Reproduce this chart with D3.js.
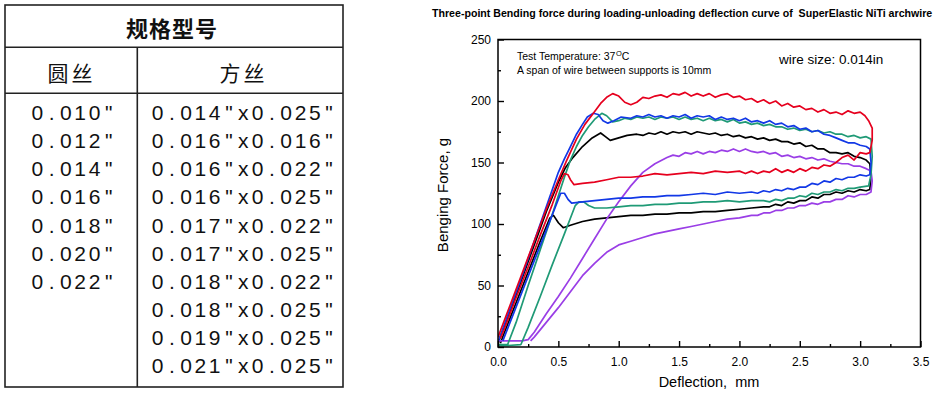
<!DOCTYPE html>
<html><head><meta charset="utf-8">
<script src="https://cdn.jsdelivr.net/npm/d3@7"></script>
<style>body{margin:0;background:#fff}svg{display:block}</style>
</head><body>
<svg id="c" width="945" height="395"></svg>
<script>
// ---------- DATA ----------
const tableTitle = "规格型号";
const colHeaders = ["圆丝", "方丝"];
const roundSizes = ['0.010"', '0.012"', '0.014"', '0.016"', '0.018"', '0.020"', '0.022"'];
const rectSizes = ['0.014"x0.025"', '0.016"x0.016"', '0.016"x0.022"', '0.016"x0.025"', '0.017"x0.022"',
  '0.017"x0.025"', '0.018"x0.022"', '0.018"x0.025"', '0.019"x0.025"', '0.021"x0.025"'];

const chartTitle = "Three-point Bending force during loading-unloading deflection curve of  SuperElastic NiTi archwire";
const xLabel = "Deflection,  mm";
const yLabel = "Benging Force, g";
const noteTemp = ["Test Temperature: 37", "O", "C"];
const noteSpan = "A span of wire between supports is 10mm";
const noteWire = "wire size: 0.014in";
const xTicks = [0, 0.5, 1.0, 1.5, 2.0, 2.5, 3.0, 3.5];
const yTicks = [0, 50, 100, 150, 200, 250];

const redLoop = [[0,8],[0.1,34],[0.2,60],[0.3,86],[0.4,112],[0.5,136],[0.57,152],[0.65,169],[0.72,181],[0.79,190],[0.85,198],[0.9,203],[0.95,206],[1.0,204],[1.05,199],[1.1,197],[1.15,199],[1.2,203],[1.25,202],[1.3,204],[1.35,205],[1.4,203],[1.45,206],[1.5,205],[1.55,207],[1.6,204],[1.65,206],[1.7,204],[1.75,206],[1.8,203],[1.85,205],[1.9,206],[1.95,203],[2.0,204],[2.05,201],[2.1,202],[2.15,199],[2.2,201],[2.25,198],[2.3,200],[2.35,196],[2.4,198],[2.45,195],[2.5,196],[2.55,193],[2.6,194],[2.65,191],[2.7,193],[2.75,190],[2.8,191],[2.85,189],[2.9,192],[2.95,190],[3.0,191],[3.04,188],[3.07,184],[3.1,178],[3.1,168],[3.08,158],[3.05,157],[3.0,158],[2.95,152],[2.9,156],[2.85,154],[2.8,150],[2.75,147],[2.7,148],[2.65,145],[2.6,146],[2.55,143],[2.5,145],[2.45,142],[2.4,144],[2.35,142],[2.3,145],[2.25,142],[2.2,143],[2.15,141],[2.1,143],[2.05,141],[2.0,143],[1.9,142],[1.8,143],[1.7,141],[1.6,142],[1.5,141],[1.4,140],[1.3,141],[1.2,139],[1.1,138],[1.0,138],[0.9,136],[0.8,134],[0.7,133],[0.63,132],[0.6,136],[0.58,140],[0.55,141],[0.52,135],[0.45,116],[0.35,91],[0.25,65],[0.15,40],[0.05,14],[0.02,7]];

const blueLoop = [[0,4],[0.1,31],[0.2,58],[0.3,86],[0.4,114],[0.5,142],[0.55,153],[0.6,163],[0.65,173],[0.7,181],[0.74,187],[0.79,190],[0.83,189],[0.87,184],[0.91,182],[0.96,184],[1.02,187],[1.1,186],[1.15,188],[1.2,187],[1.25,189],[1.3,187],[1.35,188],[1.4,186],[1.45,188],[1.5,187],[1.55,189],[1.6,186],[1.65,188],[1.7,187],[1.75,188],[1.8,185],[1.85,187],[1.9,185],[1.95,186],[2.0,184],[2.05,186],[2.1,183],[2.15,184],[2.2,182],[2.25,184],[2.3,181],[2.35,182],[2.4,179],[2.45,180],[2.5,177],[2.55,178],[2.6,175],[2.65,176],[2.7,173],[2.75,172],[2.8,170],[2.85,168],[2.9,166],[2.95,166],[3.0,164],[3.05,163],[3.08,161],[3.09,150],[3.08,140],[3.05,139],[3.0,140],[2.95,138],[2.9,138],[2.85,136],[2.8,137],[2.75,134],[2.7,135],[2.65,132],[2.6,133],[2.55,130],[2.5,130],[2.45,128],[2.4,129],[2.35,127],[2.3,128],[2.25,126],[2.2,127],[2.15,125],[2.1,126],[2.0,125],[1.9,126],[1.8,124],[1.7,125],[1.6,124],[1.5,123],[1.4,123],[1.3,122],[1.2,122],[1.1,121],[1.0,121],[0.9,120],[0.8,119],[0.7,118],[0.61,117],[0.58,120],[0.55,125],[0.52,125],[0.48,115],[0.4,95],[0.3,70],[0.2,45],[0.1,20],[0.04,5]];

const greenLoop = [[0,2],[0.08,2],[0.15,20],[0.25,50],[0.35,79],[0.45,108],[0.55,138],[0.6,152],[0.65,163],[0.7,172],[0.75,179],[0.8,185],[0.86,190],[0.9,188],[0.95,183],[1.0,184],[1.05,186],[1.1,185],[1.15,187],[1.2,186],[1.25,187],[1.3,185],[1.35,187],[1.4,186],[1.45,187],[1.5,185],[1.55,187],[1.6,185],[1.65,186],[1.7,184],[1.75,186],[1.8,184],[1.85,185],[1.9,183],[1.95,185],[2.0,182],[2.05,183],[2.1,181],[2.15,182],[2.2,180],[2.25,181],[2.3,179],[2.35,179],[2.4,177],[2.45,178],[2.5,176],[2.55,177],[2.6,175],[2.65,176],[2.7,174],[2.75,175],[2.8,173],[2.85,173],[2.9,171],[2.95,172],[3.0,170],[3.05,171],[3.09,169],[3.1,155],[3.09,140],[3.07,131],[3.0,130],[2.95,129],[2.9,129],[2.85,127],[2.8,128],[2.75,126],[2.7,126],[2.65,124],[2.6,125],[2.55,122],[2.5,123],[2.45,121],[2.4,121],[2.35,119],[2.3,120],[2.25,118],[2.2,119],[2.1,119],[2.0,118],[1.9,119],[1.8,118],[1.7,118],[1.6,117],[1.5,117],[1.4,116],[1.3,116],[1.2,115],[1.1,115],[1.0,114],[0.9,113],[0.8,113],[0.75,115],[0.71,118],[0.67,118],[0.64,115],[0.55,92],[0.45,67],[0.35,41],[0.25,16],[0.19,2],[0.05,1],[0,1]];

const blackLoop = [[0,3],[0.1,29],[0.2,56],[0.3,83],[0.4,110],[0.5,134],[0.56,146],[0.62,154],[0.7,163],[0.78,170],[0.85,174],[0.89,171],[0.93,168],[1.0,170],[1.07,172],[1.15,173],[1.2,172],[1.25,174],[1.3,173],[1.35,175],[1.4,173],[1.45,175],[1.5,174],[1.55,175],[1.6,173],[1.65,175],[1.7,174],[1.75,173],[1.8,174],[1.85,172],[1.9,173],[1.95,171],[2.0,172],[2.05,170],[2.1,171],[2.15,169],[2.2,170],[2.25,168],[2.3,169],[2.35,167],[2.4,167],[2.45,165],[2.5,166],[2.55,163],[2.6,164],[2.65,161],[2.7,161],[2.75,158],[2.8,158],[2.85,157],[2.9,158],[2.95,155],[3.0,154],[3.05,152],[3.08,149],[3.09,138],[3.08,128],[3.05,127],[3.0,128],[2.95,126],[2.9,127],[2.85,125],[2.8,126],[2.75,124],[2.7,124],[2.65,121],[2.6,122],[2.55,119],[2.5,119],[2.45,117],[2.4,118],[2.35,115],[2.3,116],[2.25,114],[2.2,114],[2.1,113],[2.0,112],[1.9,111],[1.8,110],[1.7,110],[1.6,109],[1.5,109],[1.4,108],[1.3,108],[1.2,107],[1.1,107],[1.0,106],[0.9,105],[0.8,104],[0.7,102],[0.6,99],[0.54,97],[0.5,101],[0.46,107],[0.43,105],[0.35,86],[0.25,61],[0.15,36],[0.05,11],[0.02,3]];

const purpleLoop = [[0,5],[0.1,5],[0.2,5],[0.25,6],[0.3,12],[0.4,27],[0.5,41],[0.6,56],[0.7,72],[0.8,88],[0.9,104],[1.0,118],[1.1,131],[1.2,142],[1.3,149],[1.4,154],[1.45,156],[1.5,155],[1.55,158],[1.6,157],[1.65,159],[1.7,157],[1.75,159],[1.8,158],[1.85,160],[1.9,159],[1.95,161],[2.0,159],[2.05,161],[2.1,159],[2.15,158],[2.2,159],[2.25,157],[2.3,158],[2.35,155],[2.4,156],[2.45,154],[2.5,155],[2.55,153],[2.6,154],[2.65,152],[2.7,153],[2.75,151],[2.8,150],[2.85,149],[2.9,149],[2.95,147],[3.0,147],[3.05,145],[3.09,143],[3.1,135],[3.09,126],[3.05,124],[3.0,124],[2.95,122],[2.9,123],[2.85,120],[2.8,120],[2.75,118],[2.7,118],[2.65,116],[2.6,117],[2.55,115],[2.5,115],[2.45,113],[2.4,113],[2.35,111],[2.3,111],[2.25,109],[2.2,109],[2.15,107],[2.1,107],[2.0,105],[1.9,104],[1.8,102],[1.7,100],[1.6,98],[1.5,96],[1.4,94],[1.3,92],[1.2,89],[1.1,86],[1.0,83],[0.9,77],[0.8,68],[0.7,58],[0.6,45],[0.5,32],[0.4,20],[0.3,8],[0.27,5]];

const seriesNames = ["black", "purple", "green", "blue", "red"];
const seriesColors = ["#000000", "#9a3ee6", "#1f9a76", "#1238e6", "#e6001e"];
const seriesData = [blackLoop, purpleLoop, greenLoop, blueLoop, redLoop];

// ---------- DRAW ----------
const svg = d3.select("#c");
const ink = "#222";

// Table
const tbl = svg.append("g");
const T = {x0: 5, x1: 343, y0: 5, y1: 387, h1: 47.3, h2: 93.3, vx: 137.3};
tbl.append("rect").attr("x", T.x0).attr("y", T.y0).attr("width", T.x1 - T.x0).attr("height", T.y1 - T.y0)
  .attr("fill", "none").attr("stroke", ink).attr("stroke-width", 1.6);
tbl.append("line").attr("x1", T.x0).attr("x2", T.x1).attr("y1", T.h1).attr("y2", T.h1).attr("stroke", ink).attr("stroke-width", 1.6);
tbl.append("line").attr("x1", T.x0).attr("x2", T.x1).attr("y1", T.h2).attr("y2", T.h2).attr("stroke", ink).attr("stroke-width", 1.6);
tbl.append("line").attr("x1", T.vx).attr("x2", T.vx).attr("y1", T.h1).attr("y2", T.y1).attr("stroke", ink).attr("stroke-width", 1.6);

tbl.append("text").text(tableTitle).attr("x", 172).attr("y", 36.5)
  .attr("text-anchor", "middle").attr("font-family", "'Noto Sans CJK SC'").attr("font-weight", 700)
  .attr("font-size", 22).attr("letter-spacing", 1).attr("fill", "#111");
const hdrX = [71.5, 243.5];
colHeaders.forEach((h, i) => {
  tbl.append("text").text(h).attr("x", hdrX[i]).attr("y", 81)
    .attr("text-anchor", "middle").attr("font-family", "'Noto Sans CJK SC'")
    .attr("font-size", 21).attr("letter-spacing", 3).attr("fill", "#111");
});
const pitch = 14.3, rowPitch = 28.15, firstBase = 120;
function monoText(str, cx0, y) {
  const chars = Array.from(str);
  tbl.append("text").text(str)
    .attr("x", chars.map((c, i) => (cx0 + i * pitch).toFixed(2)).join(" "))
    .attr("y", y).attr("text-anchor", "middle")
    .attr("font-family", "'Liberation Sans', Arial, sans-serif").attr("font-size", 21).attr("fill", "#111");
}
roundSizes.forEach((s, i) => monoText(s, 37.3, firstBase + i * rowPitch));
rectSizes.forEach((s, i) => monoText(s, 157.5, firstBase + i * rowPitch));

// Chart
const P = {l: 498, r: 920.5, t: 39.5, b: 347};
const x = d3.scaleLinear().domain([0, 3.5]).range([P.l, P.r]);
const y = d3.scaleLinear().domain([0, 250]).range([P.b, P.t]);
const font = "'Liberation Sans', Arial, sans-serif";

// title
const tt = svg.append("text").text(chartTitle).attr("x", 432).attr("y", 17)
  .attr("font-family", font).attr("font-weight", 700).attr("font-size", 10)
  .style("white-space", "pre").attr("fill", "#000");
const tw = tt.node().getComputedTextLength();
tt.attr("font-size", (10 * 501 / tw).toFixed(2));

// clip
svg.append("clipPath").attr("id", "plotclip").append("rect")
  .attr("x", P.l).attr("y", P.t).attr("width", P.r - P.l).attr("height", P.b - P.t);

const line = d3.line().x(d => x(d[0])).y(d => y(d[1]));
const lines = svg.append("g").attr("clip-path", "url(#plotclip)");
seriesData.forEach((data, i) => {
  lines.append("path").datum(data).attr("d", line)
    .attr("fill", "none").attr("stroke", seriesColors[i]).attr("stroke-width", 1.7)
    .attr("stroke-linejoin", "round").attr("class", "s-" + seriesNames[i]);
});

// axes (ticks inside)
const xAxis = d3.axisBottom(x).tickValues(xTicks).tickSize(-6).tickFormat(d3.format(".1f")).tickPadding(10);
const xMinor = d3.axisBottom(x).tickValues(d3.range(0.25, 3.5, 0.5)).tickSize(-3).tickFormat("");
const yAxis = d3.axisLeft(y).tickValues(yTicks).tickSize(-6).tickFormat(d3.format("d")).tickPadding(7);
const yMinor = d3.axisLeft(y).tickValues(d3.range(25, 250, 50)).tickSize(-3).tickFormat("");

function styleAxis(g) {
  g.selectAll(".domain").remove();
  g.selectAll("line").attr("stroke", "#000").attr("stroke-width", 1.4);
  g.selectAll("text").attr("font-family", font).attr("font-size", 12).attr("fill", "#000");
}
svg.append("g").attr("transform", `translate(0,${P.b})`).call(xAxis).call(styleAxis);
svg.append("g").attr("transform", `translate(0,${P.b})`).call(xMinor).call(styleAxis);
svg.append("g").attr("transform", `translate(${P.l},0)`).call(yAxis).call(styleAxis);
svg.append("g").attr("transform", `translate(${P.l},0)`).call(yMinor).call(styleAxis);

// frame
svg.append("rect").attr("x", P.l).attr("y", P.t).attr("width", P.r - P.l).attr("height", P.b - P.t)
  .attr("fill", "none").attr("stroke", "#000").attr("stroke-width", 1.5);

// axis titles
svg.append("text").text(xLabel).attr("x", 709).attr("y", 387).attr("text-anchor", "middle")
  .attr("font-family", font).attr("font-size", 14.5).style("white-space", "pre").attr("fill", "#000");
svg.append("text").text(yLabel).attr("transform", "translate(447.5,195) rotate(-90)")
  .attr("text-anchor", "middle").attr("font-family", font).attr("font-size", 15).attr("fill", "#000");

// notes
const nt = svg.append("text").attr("x", 517).attr("y", 60).attr("font-family", font).attr("font-size", 10.5).attr("fill", "#000");
nt.append("tspan").text(noteTemp[0]);
nt.append("tspan").text(noteTemp[1]).attr("font-size", 7.5).attr("dy", -4.5).attr("dx", 0.5);
nt.append("tspan").text(noteTemp[2]).attr("dy", 4.5);
svg.append("text").text(noteSpan).attr("x", 517).attr("y", 74.3).attr("font-family", font).attr("font-size", 10.5).attr("fill", "#000");
svg.append("text").text(noteWire).attr("x", 779).attr("y", 64).attr("font-family", font).attr("font-size", 13.5).attr("fill", "#000");
</script>
</body></html>
